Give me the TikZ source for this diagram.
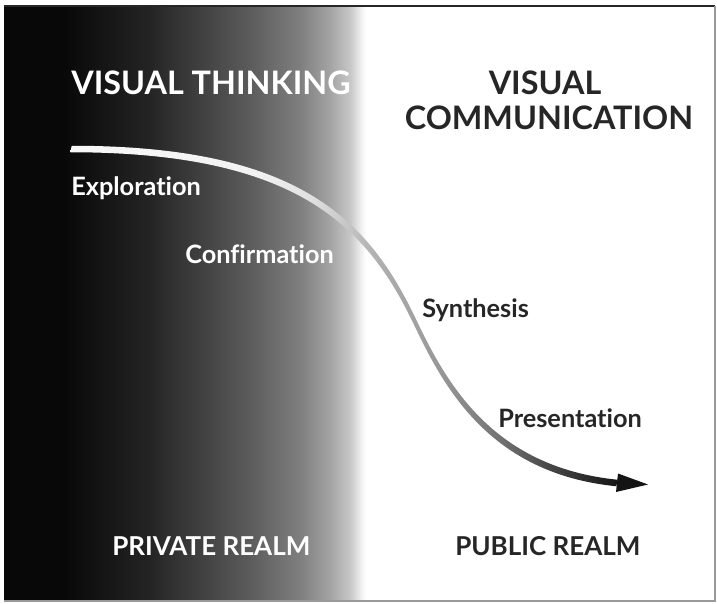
\documentclass[tikz,border=0pt]{standalone}
\usepackage{fontspec}
\setmainfont[Ligatures=NoCommon]{Lato}
\pgfdeclarehorizontalshading{darkfade}{100bp}{color(0bp)=(black!97); color(33bp)=(black!97); color(45bp)=(black!86); color(52bp)=(black!75); color(59bp)=(black!64); color(66bp)=(black!50); color(70bp)=(black!36); color(72.8bp)=(black!22); color(74.4bp)=(black!5); color(75bp)=(white); color(100bp)=(white)}
\pgfdeclarehorizontalshading{curvefade}{100bp}{color(0bp)=(white); color(42bp)=(white!95!black); color(47bp)=(white!88!black); color(52.6bp)=(black!30); color(59.4bp)=(black!42); color(64.2bp)=(black!55); color(68.8bp)=(black!72); color(75bp)=(black!92); color(100bp)=(black!92)}
\tikzset{
  title/.style={font=\bfseries\fontsize{23}{26}\selectfont,inner sep=0pt,anchor=base west},
  stage/.style={font=\bfseries\fontsize{18}{21}\selectfont,inner sep=0pt,anchor=base west},
  realm/.style={font=\bfseries\fontsize{18.5}{21}\selectfont,inner sep=0pt,anchor=base west},
}
\begin{document}
\begin{tikzpicture}[x=0.025cm,y=-0.025cm]
\useasboundingbox (0,0) rectangle (717,604);
% private side, dark to light
\shade[shading=darkfade] (4,6) rectangle (366,601);
\draw[black!85,line width=1.1pt] (4,6) -- (715,6);
\draw[black!40,line width=0.8pt] (4,601) -- (715,601) -- (715,6);
% the curve, a thin ribbon so it can fade
\shade[shading=curvefade] (71.75,145.75) .. controls (297.75,145.75) and (368.15,218.75) .. (415.75,318.75)
  .. controls (445.75,381.75) and (491.75,467.15) .. (617.75,479.75) -- (616.25,486.25)
  .. controls (490.25,473.65) and (444.25,388.25) .. (414.25,325.25)
  .. controls (366.65,225.25) and (296.25,152.25) .. (70.25,152.25) -- cycle;
\fill[black!92] (618,473.5) -- (648,484.5) -- (616,492) -- cycle;
% titles
\node[title,white] (think) at (71,95) {VISUAL THINKING};
\node[title,black!85,anchor=base] (visual) at (545,95) {VISUAL};
\node[title,black!85,anchor=base] (comm) at (549,130) {COMMUNICATION};
% stages
\node[stage,white] (explore) at (71,195) {Exploration};
\node[stage,white] (confirm) at (185,263) {Confirmation};
\node[stage,black!85] (synth) at (422,317) {Synthesis};
\node[stage,black!85] (present) at (498,427) {Presentation};
% realms
\node[realm,white] (private) at (112,555) {PRIVATE REALM};
\node[realm,black!85] (public) at (455,555) {PUBLIC REALM};
\end{tikzpicture}
\end{document}
